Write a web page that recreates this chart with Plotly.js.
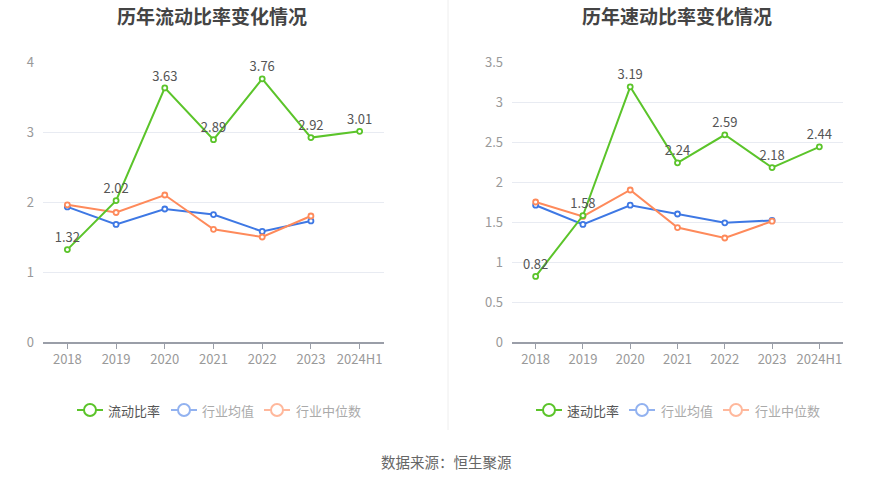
<!DOCTYPE html>
<html><head><meta charset="utf-8">
<script src="https://cdn.plot.ly/plotly-3.0.1.min.js"></script>
<style>html,body{margin:0;padding:0;background:#fff}#chart{width:893px;height:481px}</style>
</head><body><div id="chart"></div>
<script>
const categories = ['2018','2019','2020','2021','2022','2023','2024H1'];
const currentRatio = [1.32, 2.02, 3.63, 2.89, 3.76, 2.92, 3.01];
const currentIndustryMean = [1.93, 1.68, 1.90, 1.82, 1.58, 1.73];
const currentIndustryMedian = [1.96, 1.85, 2.10, 1.61, 1.50, 1.80];
const quickRatio = [0.82, 1.58, 3.19, 2.24, 2.59, 2.18, 2.44];
const quickIndustryMean = [1.71, 1.47, 1.71, 1.60, 1.49, 1.52];
const quickIndustryMedian = [1.75, 1.57, 1.90, 1.43, 1.30, 1.51];
const titles = ['历年流动比率变化情况', '历年速动比率变化情况'];
const seriesNames = [['流动比率','行业均值','行业中位数'], ['速动比率','行业均值','行业中位数']];
const sourceText = '数据来源：恒生聚源';

const GREEN = '#5bc42a', BLUE = '#3e78e4', ORANGE = '#fe8a5b';
const FONT = '"Noto Sans CJK SC", "Noto Sans", sans-serif';
const W = 893, H = 481;
const px = x => x / W, py = y => 1 - y / H;

function line(x, y, color, ax, withText) {
  const t = {
    x: x, y: y, xaxis: ax[0], yaxis: ax[1], type: 'scatter',
    mode: withText ? 'lines+markers+text' : 'lines+markers',
    line: {color: color, width: 2},
    marker: {symbol: 'circle', size: 5, color: '#fff', line: {color: color, width: 1.8}},
    hoverinfo: 'x+y', showlegend: false, cliponaxis: false
  };
  if (withText) {
    t.text = y.map(v => v.toFixed(2));
    t.textposition = 'top center';
    t.textfont = {family: FONT, size: 13, color: '#555'};
  }
  return t;
}

const data = [
  line(categories.slice(0, currentIndustryMean.length), currentIndustryMean, BLUE, ['x','y'], false),
  line(categories.slice(0, currentIndustryMedian.length), currentIndustryMedian, ORANGE, ['x','y'], false),
  line(categories, currentRatio, GREEN, ['x','y'], true),
  line(categories.slice(0, quickIndustryMean.length), quickIndustryMean, BLUE, ['x2','y2'], false),
  line(categories.slice(0, quickIndustryMedian.length), quickIndustryMedian, ORANGE, ['x2','y2'], false),
  line(categories, quickRatio, GREEN, ['x2','y2'], true)
];

function xax(domain, anchor) {
  return {domain: domain, anchor: anchor, type: 'category', categoryorder: 'array', categoryarray: categories,
    range: [-0.5, 6.5], showline: true, linecolor: '#9a9ea8', linewidth: 1.5, ticks: 'outside', ticklen: 5,
    tickcolor: '#9a9ea8', showgrid: false, zeroline: false, fixedrange: true,
    tickfont: {family: FONT, size: 13, color: '#999'}};
}
function yax(domain, anchor, max, dtick) {
  return {domain: domain, anchor: anchor, range: [0, max], dtick: dtick, showline: false, zeroline: false,
    gridcolor: '#e8ebf2', gridwidth: 1, ticks: '', ticklabelstandoff: 8, fixedrange: true,
    tickfont: {family: FONT, size: 13, color: '#999'}};
}
const yd = [py(342), py(62)];

const shapes = [{type: 'line', xref: 'paper', yref: 'paper', x0: px(448), x1: px(448), y0: py(0), y1: py(430),
  line: {color: '#eeeeee', width: 1}}];
const annotations = [];

function legend(items) {
  items.forEach(it => {
    shapes.push({type: 'line', xref: 'paper', yref: 'paper', x0: px(it.cx - 13), x1: px(it.cx + 13),
      y0: py(410), y1: py(410), line: {color: it.color, width: 2}});
    shapes.push({type: 'circle', xref: 'paper', yref: 'paper', x0: px(it.cx - 6), x1: px(it.cx + 6),
      y0: py(416), y1: py(404), fillcolor: '#fff', line: {color: it.color, width: 2}});
    annotations.push({xref: 'paper', yref: 'paper', x: px(it.tx), y: py(410), xanchor: 'left', yanchor: 'middle',
      text: it.text, showarrow: false, font: {family: FONT, size: 13, color: it.tc}});
  });
}
legend([
  {cx: 90, tx: 106, color: GREEN, text: seriesNames[0][0], tc: '#555'},
  {cx: 184, tx: 200, color: '#92b2f0', text: seriesNames[0][1], tc: '#aaa'},
  {cx: 277, tx: 294, color: '#ffb89c', text: seriesNames[0][2], tc: '#aaa'},
  {cx: 549, tx: 565, color: GREEN, text: seriesNames[1][0], tc: '#555'},
  {cx: 642, tx: 659, color: '#92b2f0', text: seriesNames[1][1], tc: '#aaa'},
  {cx: 736, tx: 753, color: '#ffb89c', text: seriesNames[1][2], tc: '#aaa'}
]);
annotations.push({xref: 'paper', yref: 'paper', x: px(212), y: py(15), xanchor: 'center', yanchor: 'middle',
  text: '<b>' + titles[0] + '</b>', showarrow: false, font: {family: FONT, size: 19, color: '#444'}});
annotations.push({xref: 'paper', yref: 'paper', x: px(677), y: py(15), xanchor: 'center', yanchor: 'middle',
  text: '<b>' + titles[1] + '</b>', showarrow: false, font: {family: FONT, size: 19, color: '#444'}});
annotations.push({xref: 'paper', yref: 'paper', x: px(446), y: py(461), xanchor: 'center', yanchor: 'middle',
  text: sourceText, showarrow: false, font: {family: FONT, size: 14.5, color: '#666'}});

const layout = {
  width: W, height: H, margin: {l: 0, r: 0, t: 0, b: 0}, paper_bgcolor: '#fff', plot_bgcolor: '#fff',
  showlegend: false, font: {family: FONT},
  xaxis: xax([px(43), px(384)], 'y'), yaxis: yax(yd, 'x', 4, 1),
  xaxis2: xax([px(512), px(843)], 'y2'), yaxis2: yax(yd, 'x2', 3.5, 0.5),
  shapes: shapes, annotations: annotations
};
Plotly.newPlot('chart', data, layout, {displayModeBar: false, staticPlot: true});
</script></body></html>
